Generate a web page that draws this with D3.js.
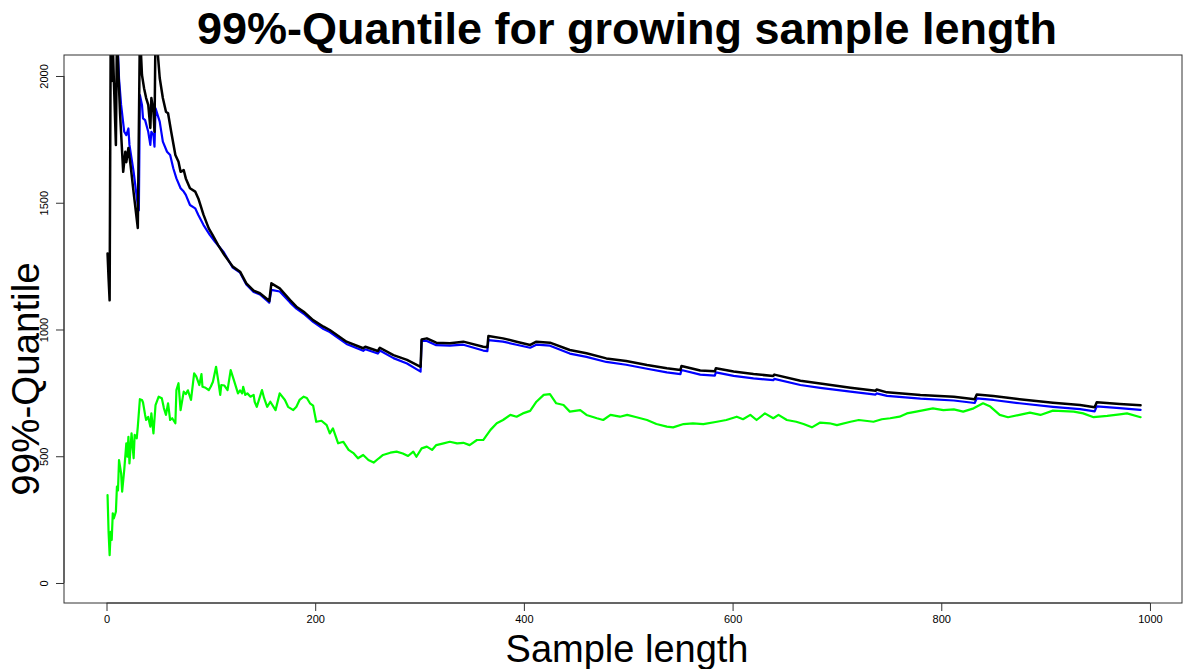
<!DOCTYPE html>
<html>
<head>
<meta charset="utf-8">
<script src="https://cdn.jsdelivr.net/npm/d3@7"></script>
<style>
  html, body { margin: 0; padding: 0; background: #fff; }
  svg { display: block; font-family: "Liberation Sans", Arial, sans-serif; }
</style>
</head>
<body>
<svg id="chart" width="1184" height="669"></svg>
<script>
// Sample length (x) and 99%-quantile estimates for three estimators
const blackLen = [1,2,3,4,5,6,7,9,10,13,16,18,19,21,23,26,30,32,34,36,38,40,42,43,45,46,47,51,54,57,59,62,66,69,71,74,76,80,85,88,93,98,102,107,113,121,128,134,141,147,155,156,158,166,176,182,189,198,208,214,230,246,248,260,262,275,288,301,302,307,316,329,342,361,365,366,380,393,406,412,425,444,460,479,498,518,537,550,551,569,583,584,601,620,639,640,665,684,713,737,738,748,780,812,832,834,850,875,907,933,947,949,971,991];
const blackQ = [1300,1200,1115,2150,1980,2130,1990,1728,2160,1850,1622,1701,1660,1716,1650,1540,1400,2180,2004,1952,1913,1886,1795,1913,1859,1780,2200,1992,1913,1859,1853,1780,1688,1662,1622,1629,1596,1557,1544,1517,1452,1399,1370,1333,1294,1248,1228,1182,1153,1143,1116,1112,1182,1162,1116,1090,1070,1037,1011,998,952,926,932,915,928,899,880,853,961,965,948,946,952,932,930,974,965,952,939,952,948,919,906,886,876,860,847,840,856,838,835,847,834,824,817,822,798,787,770,758,763,752,742,735,725,744,738,725,711,702,693,713,706,701];

const blueLen = [10,12,14,17,19,21,22,26,30,31,32,34,35,37,40,42,43,45,46,47,51,54,58,61,64,67,71,74,76,80,85,88,93,99,104,112,121,128,134,141,147,155,156,158,166,176,182,189,198,208,214,230,246,248,260,262,275,288,301,302,307,316,329,342,361,365,366,380,393,406,412,425,444,460,479,498,518,537,550,551,569,583,584,601,620,639,640,665,684,713,737,738,748,780,812,832,834,850,875,907,933,947,949,971,991];
const blueQ = [2200,1990,1886,1780,1767,1793,1728,1622,1490,1470,1925,1886,1833,1826,1780,1728,1780,1767,1721,1872,1820,1741,1701,1688,1636,1596,1557,1544,1531,1491,1478,1452,1412,1373,1346,1307,1244,1224,1178,1148,1138,1110,1106,1156,1150,1106,1082,1062,1030,1002,990,943,916,922,905,917,887,866,834,956,955,938,936,940,917,915,958,952,940,928,940,936,905,892,872,861,845,831,824,840,822,818,831,817,807,800,805,781,770,755,743,748,738,727,720,710,728,722,709,695,686,677,697,690,683];

const greenLen = [1,2,3,4,5,6,7,9,10,11,12,14,15,17,19,20,21,22,24,26,27,29,30,32,34,35,37,38,40,42,43,45,47,50,53,55,57,59,61,63,66,67,69,71,74,76,78,81,84,86,89,91,92,95,98,100,102,105,107,109,110,113,116,119,122,126,128,130,131,133,135,138,141,142,144,149,151,154,157,162,166,171,174,179,182,185,189,192,195,198,201,206,211,214,217,222,227,232,237,241,246,251,256,261,265,272,278,284,289,294,297,302,307,312,316,323,329,336,342,348,355,361,368,374,380,387,393,399,406,412,419,425,431,438,444,454,460,470,476,483,492,499,508,518,527,537,543,553,562,572,585,594,604,610,617,623,631,639,644,652,661,668,676,684,693,700,713,721,735,743,751,760,767,776,792,802,812,821,831,840,847,856,864,875,885,895,907,927,936,946,959,971,978,991];
const greenQ = [347,200,110,202,170,275,255,281,380,365,485,433,360,446,551,498,577,472,590,492,584,571,617,725,722,712,663,643,655,617,669,590,702,735,729,690,663,709,643,650,630,761,788,682,755,745,760,722,827,815,781,824,774,770,761,775,794,853,800,742,781,779,761,840,801,748,760,748,774,742,748,735,742,715,695,761,730,695,715,682,748,722,695,682,695,722,735,730,709,700,636,640,623,590,610,551,557,525,511,492,505,485,475,492,505,514,518,511,501,518,498,531,538,525,544,551,557,551,553,544,564,564,604,630,643,663,656,669,679,715,742,745,709,702,676,682,663,650,643,663,656,663,654,643,627,617,614,627,630,627,636,643,656,646,663,643,669,650,663,643,636,627,614,633,630,623,636,643,636,646,650,656,669,676,689,682,685,676,689,709,696,663,654,663,672,663,680,676,669,654,659,665,669,654];

const xTicks = [0, 200, 400, 600, 800, 1000];
const yTicks = [0, 500, 1000, 1500, 2000];

const titleText = "99%-Quantile for growing sample length";
const xTitle = "Sample length";
const yTitle = "99%-Quantile";

const svg = d3.select("#chart");
const box = { left: 64, right: 1182, top: 55, bottom: 603 };

// Axis ranges carry the usual 4% padding beyond 0..~1000 and 0..2000
const x = d3.scaleLinear().domain([-40.73, 1030.7]).range([box.left, box.right]);
const y = d3.scaleLinear().domain([-78.9, 2082.8]).range([box.bottom, box.top]);

svg.append("defs").append("clipPath").attr("id", "plotClip")
  .append("rect")
  .attr("x", box.left).attr("y", box.top)
  .attr("width", box.right - box.left).attr("height", box.bottom - box.top);

const plot = svg.append("g").attr("clip-path", "url(#plotClip)");

const line = d3.line().x(d => x(d[0])).y(d => y(d[1]));

function drawSeries(lens, vals, color, width) {
  plot.append("path")
    .datum(d3.zip(lens, vals))
    .attr("d", line)
    .attr("fill", "none")
    .attr("stroke", color)
    .attr("stroke-width", width)
    .attr("stroke-linejoin", "round")
    .attr("stroke-linecap", "round");
}

drawSeries(greenLen, greenQ, "#00ff00", 2.2);
drawSeries(blueLen, blueQ, "#0000ff", 2.2);
drawSeries(blackLen, blackQ, "#000000", 2.5);

// Plot frame
svg.append("rect")
  .attr("x", box.left).attr("y", box.top)
  .attr("width", box.right - box.left).attr("height", box.bottom - box.top)
  .attr("fill", "none").attr("stroke", "#333").attr("stroke-width", 1);

// Bottom axis
const xAxis = d3.axisBottom(x).tickValues(xTicks).tickSize(8).tickPadding(4)
  .tickFormat(d3.format("d"));
const gx = svg.append("g").attr("transform", `translate(0,${box.bottom})`).call(xAxis);
gx.select(".domain").attr("d", `M${x(0)},0H${x(1000)}`).attr("stroke", "#333");
gx.selectAll(".tick line").attr("stroke", "#333");
gx.selectAll(".tick text").attr("font-size", 11).attr("fill", "#000")
  .attr("font-family", "Liberation Sans, Arial, sans-serif");

// Left axis with rotated labels
const yAxis = d3.axisLeft(y).tickValues(yTicks).tickSize(8).tickFormat(d3.format("d"));
const gy = svg.append("g").attr("transform", `translate(${box.left},0)`).call(yAxis);
gy.select(".domain").attr("d", `M0,${y(0)}V${y(2000)}`).attr("stroke", "#333");
gy.selectAll(".tick line").attr("stroke", "#333");
gy.selectAll(".tick text")
  .attr("font-size", 11).attr("fill", "#000")
  .attr("font-family", "Liberation Sans, Arial, sans-serif")
  .attr("x", null).attr("dy", null)
  .attr("text-anchor", "middle")
  .attr("transform", "translate(-16,0) rotate(-90)");

// Titles
svg.append("text")
  .attr("x", 627).attr("y", 44)
  .attr("text-anchor", "middle")
  .attr("font-size", 45).attr("font-weight", "bold")
  .text(titleText);

svg.append("text")
  .attr("x", 627).attr("y", 662)
  .attr("text-anchor", "middle")
  .attr("font-size", 38)
  .text(xTitle);

svg.append("text")
  .attr("transform", "translate(39,379) rotate(-90)")
  .attr("text-anchor", "middle")
  .attr("font-size", 38.5)
  .text(yTitle);
</script>
</body>
</html>
